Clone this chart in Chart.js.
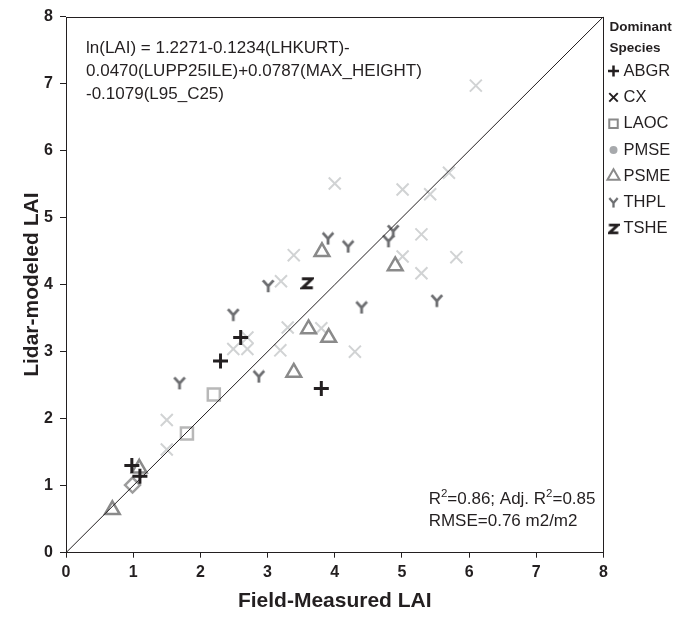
<!DOCTYPE html>
<html><head><meta charset="utf-8">
<script src="https://cdn.jsdelivr.net/npm/chart.js@4.4.1/dist/chart.umd.min.js"></script>
<style>html,body{margin:0;padding:0;background:#fff;}#wrap{width:689px;height:617px;position:relative;}</style>
</head><body><div id="wrap"><canvas id="c" width="689" height="617"></canvas></div>
<script>
// ---- data ----
const species = ['ABGR','CX','LAOC','PMSE','PSME','THPL','TSHE'];
const abgrX = [0.98, 1.10, 2.30, 2.60, 3.80];
const abgrY = [1.30, 1.14, 2.86, 3.21, 2.45];
const cxX = [1.50, 1.50, 2.49, 2.70, 2.70, 3.19, 3.30, 3.80, 3.39, 3.20, 4.00, 4.30, 5.01, 5.42, 5.70, 5.29, 5.01, 5.29, 5.81, 6.10];
const cxY = [1.98, 1.54, 3.04, 3.21, 3.04, 3.02, 3.36, 3.35, 4.44, 4.05, 5.51, 3.00, 5.42, 5.35, 5.67, 4.75, 4.42, 4.17, 4.41, 6.97];
const laocX = [1.80, 2.20];
const laocY = [1.78, 2.36];
const pmseX = [0.99];
const pmseY = [1.01];
const psmeX = [0.69, 1.09, 3.39, 3.61, 3.91, 3.81, 4.90];
const psmeY = [0.64, 1.26, 2.69, 3.34, 3.21, 4.49, 4.28];
const thplX = [2.49, 1.69, 2.87, 3.01, 3.90, 4.20, 4.87, 4.80, 4.40, 5.52];
const thplY = [3.55, 2.53, 2.63, 3.98, 4.69, 4.57, 4.80, 4.65, 3.66, 3.76];
const tsheX = [3.59];
const tsheY = [4.02];
const oneToOne = [0, 8];
const axisMin = 0, axisMax = 8, axisStep = 1;
const xTitle = 'Field-Measured LAI';
const yTitle = 'Lidar-modeled LAI';
const legendTitle = ['Dominant', 'Species'];
const equationLines = ['ln(LAI) = 1.2271-0.1234(LHKURT)-', '0.0470(LUPP25ILE)+0.0787(MAX_HEIGHT)', '-0.1079(L95_C25)'];
const statsLine1 = [['R',0],['2',1],['=0.86; Adj. R',0],['2',1],['=0.85',0]];
const statsLine2 = 'RMSE=0.76 m2/m2';

// ---- styling ----
const INK = '#231f20';
const FONT = '"Liberation Sans", Arial, Helvetica, sans-serif';
Chart.defaults.font.family = FONT;
Chart.defaults.color = INK;

function glyph(kind, size, lw, color) {
  const c = document.createElement('canvas');
  c.width = size; c.height = size;
  const g = c.getContext('2d');
  g.strokeStyle = color; g.lineWidth = lw; g.lineCap = 'butt'; g.lineJoin = 'miter';
  const s = size;
  g.beginPath();
  if (kind === 'Y') {
    g.moveTo(s*0.12, s*0.1); g.lineTo(s*0.5, s*0.52); g.lineTo(s*0.88, s*0.1);
    g.moveTo(s*0.5, s*0.5); g.lineTo(s*0.5, s*0.95);
  } else {
    g.moveTo(s*0.12, s*0.17); g.lineTo(s*0.86, s*0.17); g.lineTo(s*0.16, s*0.83); g.lineTo(s*0.9, s*0.83);
  }
  g.stroke();
  return c;
}
const yMark = glyph('Y', 14, 2.8, '#6d6e71');
const zMark = glyph('Z', 14, 3, INK);
const yLeg = glyph('Y', 11, 2.3, '#6d6e71');
const zLeg = glyph('Z', 12, 2.8, INK);

const pts = (xs, ys) => xs.map((x, i) => ({x, y: ys[i]}));
const sc = (label, xs, ys, style, r, bw, color, leg) => ({
  type: 'scatter', label, data: pts(xs, ys), pointStyle: style, pointRadius: r, pointHoverRadius: r,
  borderWidth: bw, pointBorderWidth: bw, borderColor: color, backgroundColor: 'rgba(0,0,0,0)',
  pointBorderColor: color, pointBackgroundColor: 'rgba(0,0,0,0)', legendMark: leg
});

const datasets = [
  {type: 'line', label: '1:1', data: pts(oneToOne, oneToOne), borderColor: INK, borderWidth: 1, pointRadius: 0, fill: false},
  sc(species[6], tsheX, tsheY, zMark, 7, 0, INK, {style: zLeg, r: 6, bw: 0, color: INK}),
  sc(species[0], abgrX, abgrY, 'cross', 7.5, 3, INK, {style: 'cross', r: 5.5, bw: 2.5, color: INK}),
  sc(species[5], thplX, thplY, yMark, 7, 0, '#6d6e71', {style: yLeg, r: 6, bw: 0, color: '#6d6e71'}),
  sc(species[4], psmeX, psmeY, 'triangle', 8.5, 2.5, '#8a8a8a', {style: 'triangle', r: 7, bw: 2, color: '#8a8a8a'}),
  sc(species[3], pmseX, pmseY, 'rectRot', 7.5, 2.5, '#9d9d9d', {style: 'circle', r: 4, bw: 0, color: '#a7a9ac', fill: true}),
  sc(species[2], laocX, laocY, 'rect', 8.5, 2.5, '#b8b8b8', {style: 'rect', r: 6, bw: 2, color: '#8a8a8a'}),
  sc(species[1], cxX, cxY, 'crossRot', 8.5, 2, '#d1d3d4', {style: 'crossRot', r: 6, bw: 2, color: INK})
];

const framePlugin = {
  id: 'frame',
  beforeDatasetsDraw(chart) {
    const {ctx, chartArea: a} = chart;
    ctx.save();
    ctx.strokeStyle = INK; ctx.lineWidth = 1;
    ctx.strokeRect(Math.round(a.left) + 0.5, Math.round(a.top) + 0.5, Math.round(a.right - a.left) - 1, Math.round(a.bottom - a.top) - 1);
    ctx.restore();
  },
  afterDraw(chart) {
    const {ctx, chartArea: a} = chart;
    ctx.save();
    ctx.fillStyle = INK;
    // equation
    ctx.font = '17px ' + FONT;
    ctx.textBaseline = 'middle'; ctx.textAlign = 'left';
    equationLines.forEach((t, i) => ctx.fillText(t, a.left + 20, a.top + 32 + i * 23));
    // stats text
    const segW = segs => segs.reduce((w, [t, sup]) => { ctx.font = (sup ? '11.5px ' : '17px ') + FONT; return w + ctx.measureText(t).width; }, 0);
    const w1 = segW(statsLine1);
    let x = a.right - 8 - w1;
    const x0 = x;
    const y1 = a.bottom - 53;
    statsLine1.forEach(([t, sup]) => {
      ctx.font = (sup ? '11.5px ' : '17px ') + FONT;
      ctx.fillText(t, x, sup ? y1 - 6 : y1);
      x += ctx.measureText(t).width;
    });
    ctx.font = '17px ' + FONT;
    ctx.fillText(statsLine2, x0, y1 + 22);
    // legend
    const lx = a.right + 6;
    ctx.font = 'bold 13.5px ' + FONT;
    legendTitle.forEach((t, i) => ctx.fillText(t, lx, a.top + 11 + i * 21));
    species.forEach((name, i) => {
      const ds = chart.data.datasets.find(d => d.label === name);
      const m = ds.legendMark;
      const yy = a.top + 54.5 + i * 26.3;
      ctx.save();
      ctx.strokeStyle = m.color; ctx.fillStyle = m.fill ? m.color : 'rgba(0,0,0,0)';
      ctx.lineWidth = m.bw;
      Chart.helpers.drawPoint(ctx, {pointStyle: m.style, radius: m.r, borderWidth: m.bw, rotation: 0}, lx + 4, yy);
      ctx.restore();
      ctx.fillStyle = INK;
      ctx.font = '16.5px ' + FONT;
      ctx.fillText(name, lx + 14, yy);
    });
    ctx.restore();
  }
};

const axisCommon = (title, fit, titlePad, tickLen, tickPad) => ({
  type: 'linear', min: axisMin, max: axisMax,
  ticks: {stepSize: axisStep, color: INK, font: {size: 16, weight: 'bold'}, padding: tickPad},
  grid: {display: true, drawOnChartArea: false, drawTicks: true, tickLength: tickLen, color: INK, tickColor: INK},
  border: {display: false},
  title: {display: true, text: title, color: INK, font: {size: 21, weight: 'bold'}, padding: titlePad},
  afterFit: fit
});

new Chart(document.getElementById('c'), {
  data: {datasets},
  options: {
    responsive: false, animation: false, events: [],
    layout: {padding: {left: 0, top: 14, right: 85.5, bottom: 0}},
    plugins: {legend: {display: false}, tooltip: {enabled: false}},
    scales: {
      x: axisCommon(xTitle, s => { s.height = 64.3; }, {top: 0, bottom: 3}, 5, 5),
      y: axisCommon(yTitle, s => { s.width = 66; }, {top: 20, bottom: 0}, 6, 7)
    }
  },
  plugins: [framePlugin]
});
</script></body></html>
